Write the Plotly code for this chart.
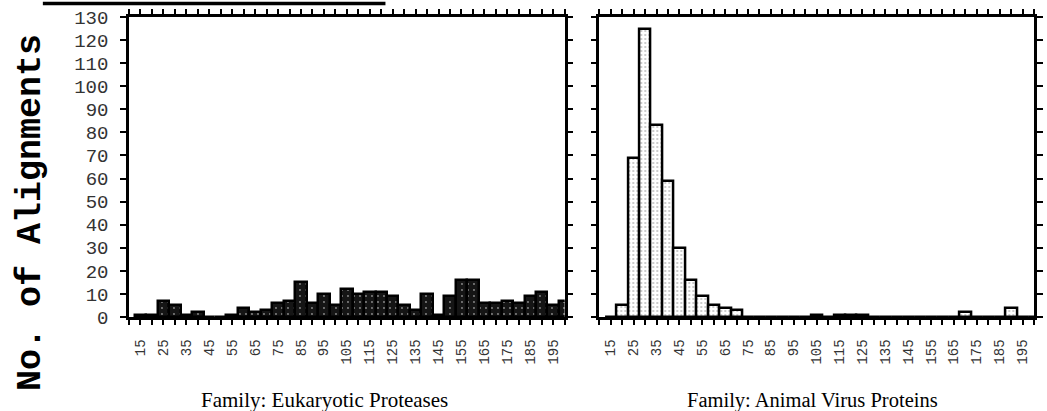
import plotly.graph_objects as go

# ---- data ----
bins = [15, 20, 25, 30, 35, 40, 45, 50, 55, 60, 65, 70, 75, 80, 85, 90, 95, 100, 105,
        110, 115, 120, 125, 130, 135, 140, 145, 150, 155, 160, 165, 170, 175, 180, 185,
        190, 195, 200]
proteases = [1, 1, 7, 5, 1, 2, 0, 0, 1, 4, 2, 3, 6, 7, 15, 6, 10, 5, 12,
             10, 11, 11, 9, 5, 3, 10, 1, 9, 16, 16, 6, 6, 7, 6, 9,
             11, 5, 7]
virus = [0, 5, 69, 125, 83, 59, 30, 16, 9, 5, 4, 3, 0, 0, 0, 0, 0, 0, 1,
         0, 1, 1, 1, 0, 0, 0, 0, 0, 0, 0, 0, 2, 0, 0, 0,
         4, 0, 0]
tick_vals = list(range(10, 201, 5))
label_vals = list(range(15, 196, 10))
y_ticks = list(range(0, 131, 10))
left_title = "Family: Eukaryotic Proteases"
right_title = "Family: Animal Virus Proteins"
y_title = "No. of Alignments"

# ---- layout helpers ----
W, H = 1047, 411
ML, MR, MT, MB = 129, 4, 17, 94
PW = W - ML - MR
PH = H - MT - MB


def px(xp):
    return (xp - ML) / PW


def py(yp):
    return (H - MB - yp) / PH


tick_text = [str(v) if v in label_vals else "" for v in tick_vals]

fig = go.Figure()
fig.add_trace(go.Bar(
    x=bins, y=proteases, xaxis="x", yaxis="y", showlegend=False,
    marker=dict(color="#151515", line=dict(color="black", width=2.5),
                pattern=dict(shape=".", fgcolor="white", bgcolor="#151515",
                             size=6, solidity=0.08, fillmode="overlay")),
))
fig.add_trace(go.Bar(
    x=bins, y=virus, xaxis="x2", yaxis="y2", showlegend=False,
    marker=dict(color="white", line=dict(color="black", width=2.5),
                pattern=dict(shape=".", fgcolor="#777", bgcolor="white",
                             size=4, solidity=0.2, fillmode="overlay")),
))

xcommon = dict(range=[10, 200], tickmode="array", tickvals=tick_vals, ticktext=tick_text,
               tickangle=-90, ticks="outside", ticklen=5, tickwidth=2, tickcolor="black",
               showline=True, linecolor="black", linewidth=2.5, mirror="ticks",
               showgrid=False, zeroline=False, ticklabelstandoff=9,
               tickfont=dict(family="Liberation Mono", size=14, color="#333"))
ycommon = dict(range=[0, 130], tickmode="array", tickvals=y_ticks,
               ticks="outside", ticklen=6, tickwidth=2, tickcolor="black",
               showline=True, linecolor="black", linewidth=2.5, mirror="ticks",
               showgrid=False, zeroline=False)

fig.update_layout(
    width=W, height=H,
    margin=dict(l=ML, r=MR, t=MT, b=MB, pad=0),
    paper_bgcolor="white", plot_bgcolor="white",
    bargap=0,
    xaxis=dict(domain=[0, 440 / PW], anchor="y", **xcommon),
    xaxis2=dict(domain=[475 / PW, 1], anchor="y2", **xcommon),
    yaxis=dict(domain=[0, 1], anchor="x", ticklabelstandoff=8,
               tickfont=dict(family="Liberation Mono", size=19, color="#333"), **ycommon),
    yaxis2=dict(domain=[0, 1], anchor="x2", showticklabels=False, **ycommon),
    annotations=[
        dict(text=y_title, xref="paper", yref="paper", x=px(30), y=py(212),
             textangle=-90, showarrow=False, xanchor="center", yanchor="middle",
             font=dict(family="Liberation Mono", size=35, color="black", weight="bold")),
        dict(text=left_title, xref="paper", yref="paper", x=px(326), y=py(400),
             showarrow=False, xanchor="center", yanchor="middle",
             font=dict(family="Liberation Serif", size=21, color="black")),
        dict(text=right_title, xref="paper", yref="paper", x=px(819), y=py(400),
             showarrow=False, xanchor="center", yanchor="middle",
             font=dict(family="Liberation Serif", size=20.5, color="black")),
    ],
    shapes=[
        dict(type="line", xref="paper", yref="paper", x0=px(42), x1=px(388),
             y0=py(3.5), y1=py(3.5), line=dict(color="black", width=3.5)),
    ],
)

fig.write_html("out.html")
